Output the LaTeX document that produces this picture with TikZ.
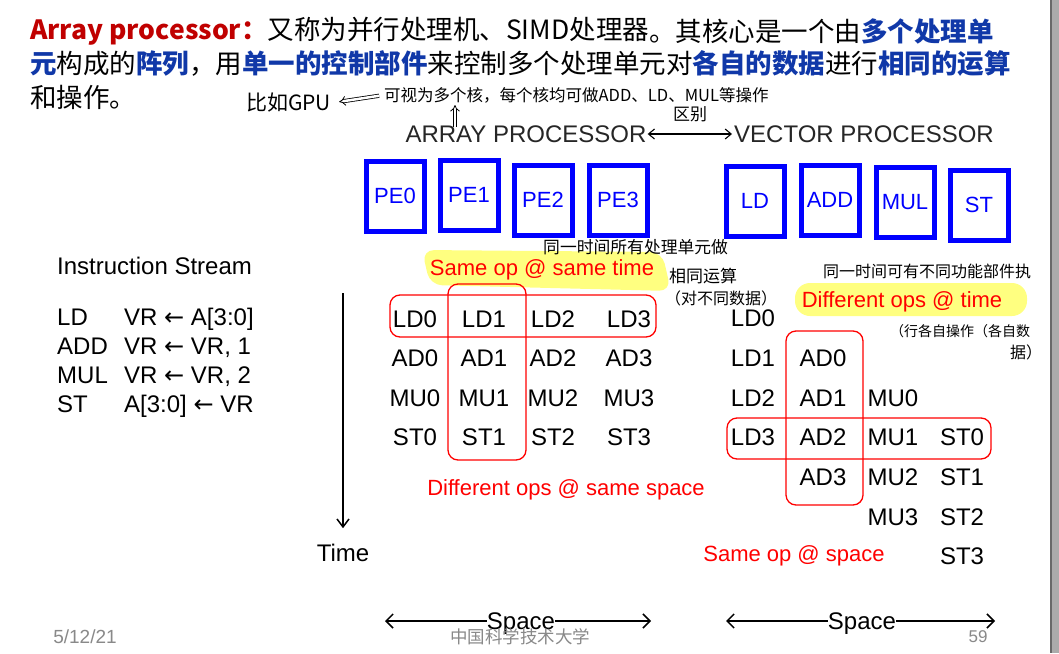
\documentclass[tikz,border=0pt]{standalone}
\usepackage{fontspec}
\setmainfont{Liberation Sans}
\newfontfamily\cjk{Noto Sans CJK SC}
\newfontfamily\symf{DejaVu Sans}
\usetikzlibrary{arrows.meta,backgrounds}

\definecolor{titlered}{RGB}{192,0,0}
\definecolor{titleblue}{RGB}{16,56,168}
\definecolor{hiyellow}{RGB}{255,255,128}
\definecolor{peblue}{RGB}{0,0,255}
\definecolor{footgrey}{RGB}{137,137,137}
\definecolor{frameedge}{RGB}{105,105,105}
\definecolor{framefill}{RGB}{171,171,171}

\newcommand{\hb}[1]{{\bfseries\color{titleblue}#1}}
\newcommand{\larr}{{\symf ←}}

\begin{document}
\begin{tikzpicture}[x=1pt,y=-1pt,
  every node/.style={inner sep=0pt},
  ttl/.style={font=\cjk\fontsize{26.5}{30}\selectfont, anchor=west},
  txt/.style={font=\fontsize{24}{28}\selectfont, text height=17.2pt, text depth=0pt},
  hdr/.style={txt, text=black!85},
  pebox/.style={draw=peblue, line width=5pt, minimum width=58pt, minimum height=70pt,
                text=peblue, font=\fontsize{22}{26}\selectfont},
  redtxt/.style={font=\fontsize{22}{26}\selectfont, text height=15.75pt, text depth=0pt, text=red},
  hand/.style={font=\cjk\fontsize{16}{18}\selectfont, anchor=west},
  grp/.style={draw=red, line width=1.3pt, rounded corners=10pt},
  foot/.style={text=footgrey},
  dblarr/.style={double, double distance=2.5pt, line width=0.8pt, -{Implies}},
  handarr/.style={line width=1.1pt, {Straight Barb[length=6pt,width=10pt]}-{Straight Barb[length=6pt,width=10pt]}},
  axisarr/.style={line width=1.5pt, -{Straight Barb[length=8pt,width=12pt,line width=1.5pt]}},
  spacearr/.style={line width=1.5pt, -{Straight Barb[length=7pt,width=14pt,line width=1.5pt]}}
]
\useasboundingbox (0,0) rectangle (1059,653);
\fill[white] (0,0) rectangle (1059,653);
% window edge on the right
\fill[framefill] (1051,0) rectangle (1059,653);
\draw[frameedge, line width=1.2pt] (1051,0) -- (1051,653);

% ---------- title ----------
\node[ttl] (t1a) at (30,31) {{\bfseries\color{titlered}Array processor：}又称为并行处理机、SIMD处理器};
\node[ttl] (t1b) at (t1a.east) {。其核心是一个由\hb{多个处理单}};
\node[ttl] (t2) at (30,63) {\hb{元}构成的\hb{阵列}，用\hb{单一的控制部件}来控制多个处理单元对\hb{各自的数据}进行\hb{相同的运算}};
\node[ttl] (t3) at (30,97) {和操作。};
\coordinate (hlr) at ([xshift=2pt]t1a.east);
\begin{pgfonlayer}{background}
  \fill[hiyellow, rounded corners=15pt] (13,15) rectangle (hlr |- 0,46);
\end{pgfonlayer}

% ---------- notes under the title ----------
\node[hand, font=\cjk\fontsize{21}{24}\selectfont] (gpu) at (246,103) {比如GPU};
\node[hand, font=\cjk\fontsize{16.5}{18}\selectfont] (cores) at (384,95) {可视为多个核，每个核均可做ADD、LD、MUL等操作};
\draw[dblarr, shorten <=5pt, shorten >=8pt] (cores.west) -- (gpu.east);

% ---------- processor headings ----------
\node[hdr] (arr) at (526,134) {ARRAY PROCESSOR};
\node[hdr] (vec) at (864,134) {VECTOR PROCESSOR};
\draw[handarr, shorten <=1pt, shorten >=2pt] (arr.east) -- (vec.west);
\node[hand, font=\cjk\fontsize{17}{18}\selectfont, anchor=center] (diff) at (690,114) {区别};
\coordinate (upfoot) at (455,127);
\draw[dblarr, shorten >=2pt] (upfoot) -- (upfoot |- cores.south);

% ---------- processing elements / functional units ----------
\node[pebox] (pe0) at (395,196) {PE0};
\node[pebox] (pe1) at (469,195) {PE1};
\node[pebox] (pe2) at (543,200) {PE2};
\node[pebox] (pe3) at (618,200) {PE3};
\node[pebox] (fld)  at (755,201) {LD};
\node[pebox] (fadd) at (830,200) {ADD};
\node[pebox] (fmul) at (905,202) {MUL};
\node[pebox] (fst)  at (979,205) {ST};

% ---------- instruction stream ----------
\node[txt, anchor=west] (istr) at (57,266) {Instruction Stream};
\node[txt, anchor=west] (op1) at (57,317) {LD};
\node[txt, anchor=west] (ar1) at (124,317) {VR \larr{} A[3:0]};
\node[txt, anchor=west] (op2) at (57,346) {ADD};
\node[txt, anchor=west] (ar2) at (124,346) {VR \larr{} VR, 1};
\node[txt, anchor=west] (op3) at (57,375) {MUL};
\node[txt, anchor=west] (ar3) at (124,375) {VR \larr{} VR, 2};
\node[txt, anchor=west] (op4) at (57,404) {ST};
\node[txt, anchor=west] (ar4) at (124,404) {A[3:0] \larr{} VR};

% ---------- time axis ----------
\coordinate (ttop) at (343,293);
\node[txt] (time) at (343,553) {Time};
\draw[axisarr, shorten >=16pt] (ttop) -- (time.north);

% ---------- highlights ----------
\fill[hiyellow, rounded corners=12pt] (422,250) -- (662,252) -- (671,291) -- (430,285) -- cycle;
\fill[hiyellow, rounded corners=15pt] (795,283) rectangle (1027,316);

% ---------- array processor grid ----------
\foreach \op [count=\r] in {LD,AD,MU,ST}{
  \foreach \c/\x in {0/415,1/484,2/553,3/629}{
    \pgfmathsetmacro{\yy}{279+39.5*\r}
    \node[txt] (a\op\c) at (\x,\yy) {\op\c};
  }
}
\draw[grp] (390,295) rectangle (656,337);
\draw[grp] (448,284) rectangle (526,460);
\node[redtxt] (sost) at (542,268) {Same op @ same time};
\node[redtxt] (doss) at (566,488) {Different ops @ same space};

% ---------- vector processor grid ----------
\foreach \op/\x/\s in {LD/753/0, AD/823/1, MU/893/2, ST/962/3}{
  \foreach \c in {0,1,2,3}{
    \pgfmathsetmacro{\yy}{318+39.7*(\s+\c)}
    \node[txt] (v\op\c) at (\x,\yy) {\op\c};
  }
}
\draw[grp] (727,418) rectangle (991,459);
\draw[grp] (786,331) rectangle (863,505);
\node[redtxt] (dot) at (902,300) {Different ops @ time};
\node[redtxt] (sos) at (794,554) {Same op @ space};

% ---------- remarks ----------
\node[hand, font=\cjk\fontsize{16.8}{18}\selectfont] (n1) at (543,247) {同一时间所有处理单元做};
\node[hand, font=\cjk\fontsize{17}{18}\selectfont] (n2) at (669,276) {相同运算};
\node[hand, font=\cjk\fontsize{16}{18}\selectfont] (n3) at (665,298) {（对不同数据）};
\node[hand, font=\cjk\fontsize{16}{18}\selectfont] (n4) at (823,271) {同一时间可有不同功能部件执};
\node[hand, font=\cjk\fontsize{14}{16}\selectfont] (n5) at (890,331) {（行各自操作（各自数};
\node[hand, font=\cjk\fontsize{16}{18}\selectfont] (n6) at (1010,352) {据）};

% ---------- space axes ----------
\node[txt] (sp1) at (521,621) {Space};
\coordinate (sl1) at (385,621);
\coordinate (sr1) at (651,621);
\draw[spacearr] (sp1.west) -- (sl1);
\draw[spacearr] (sp1.east) -- (sr1);
\node[txt] (sp2) at (862,621) {Space};
\coordinate (sl2) at (726,621);
\coordinate (sr2) at (995,621);
\draw[spacearr] (sp2.west) -- (sl2);
\draw[spacearr] (sp2.east) -- (sr2);

% ---------- footer ----------
\node[foot, font=\fontsize{19}{20}\selectfont] (date) at (85,637) {5/12/21};
\node[foot, font=\cjk\fontsize{17.5}{20}\selectfont] (inst) at (520,637) {中国科学技术大学};
\node[foot, font=\fontsize{17}{20}\selectfont] (page) at (978,637) {59};
\end{tikzpicture}
\end{document}
